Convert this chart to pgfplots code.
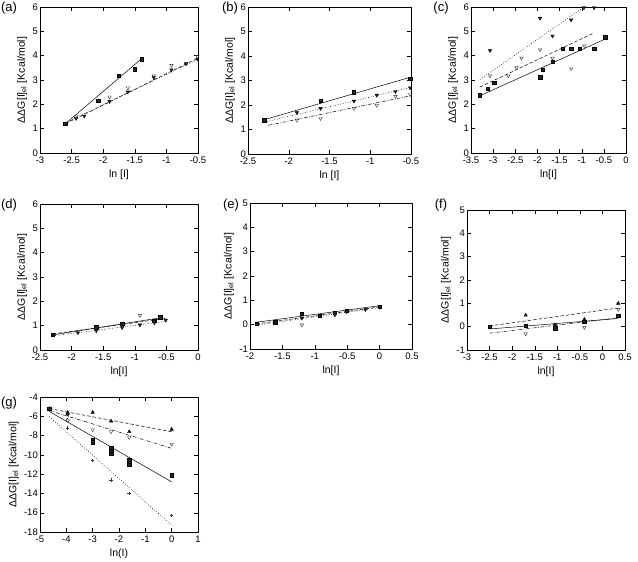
\documentclass[border=0pt]{standalone}
\usepackage{fontspec}
\setmainfont{Liberation Sans}
\usepackage{pgfplots}
\pgfplotsset{compat=1.18}
\pgfplotsset{
  panel/.style={scale only axis, anchor=south west, tick align=inside,
    /pgf/number format/assume math mode=true,
    ticklabel style={font=\fontsize{9.5}{10}\selectfont},
    yticklabel style={inner xsep=2pt},
    label style={font=\fontsize{10.5}{12}\selectfont},
    axis line style={line width=0.5pt}, tick style={line width=0.4pt, black},
    xtick pos=both, ytick pos=both,
    ylabel={ΔΔG[I]\textsubscript{el} [Kcal/mol]}},
  sq/.style={only marks, mark=square*, mark size=1.7pt, mark options={fill=black!85, draw=black}},
  dtf/.style={only marks, mark=triangle*, mark size=2pt, mark options={rotate=180, fill=black!85, draw=black}},
  dto/.style={only marks, mark=triangle, mark size=2pt, mark options={rotate=180, draw=black!80, fill=white}},
  utf/.style={only marks, mark=triangle*, mark size=2pt, mark options={fill=black!85, draw=black}},
  cf/.style={only marks, mark=*, mark size=1.7pt, mark options={fill=black!85, draw=black}},
  co/.style={only marks, mark=o, mark size=1.8pt, mark options={draw=black}},
  pl/.style={only marks, mark=+, mark size=1.8pt, mark options={draw=black!80}},
  ln/.style={no marks, black, line width=0.5pt},
  lsolid/.style={ln, solid},
  ldash/.style={ln, dash pattern=on 3.5pt off 2pt},
  ldot/.style={ln, dash pattern=on 0.8pt off 1.8pt},
  ldd/.style={ln, dash pattern=on 3.5pt off 1.5pt on 0.8pt off 1.5pt},
}
\begin{document}
\begin{tikzpicture}
\path[use as bounding box] (0pt,0pt) rectangle (638pt,562pt);
\tikzset{plab/.style={font=\fontsize{13}{14}\selectfont}}
\node[plab] at (9pt,554pt) {(a)};
\node[plab] at (230pt,554pt) {(b)};
\node[plab] at (441pt,554pt) {(c)};
\node[plab] at (9pt,357pt) {(d)};
\node[plab] at (231pt,357pt) {(e)};
\node[plab] at (441pt,357pt) {(f)};
\node[plab] at (9pt,159pt) {(g)};

% (a)
\begin{axis}[panel, at={(40pt,409pt)}, width=158pt, height=146pt,
  xmin=-3, xmax=-0.5, ymin=0, ymax=6,
  xtick={-3,-2.5,-2,-1.5,-1,-0.5}, ytick={0,1,2,3,4,5,6},
  xlabel={ln [I]}]
\addplot[lsolid] coordinates {(-2.6,1.2) (-1.39,3.88)};
\addplot[ldash] coordinates {(-2.6,1.2) (-0.5,3.9)};
\addplot[ldot] coordinates {(-2.6,1.24) (-0.5,3.85)};
\addplot[sq] coordinates {(-2.6,1.21) (-2.08,2.16) (-1.75,3.18) (-1.5,3.44) (-1.39,3.86)};
\addplot[dtf] coordinates {(-2.43,1.42) (-2.3,1.52) (-1.9,2.12) (-1.61,2.51) (-1.2,3.1) (-0.92,3.42) (-0.69,3.67) (-0.51,3.86)};
\addplot[dto] coordinates {(-2.43,1.5) (-1.9,2.3) (-1.61,2.68) (-1.2,3.17) (-0.92,3.6) (-0.51,3.97)};
\end{axis}

% (b)
\begin{axis}[panel, at={(248pt,408pt)}, width=163pt, height=147pt,
  xmin=-2.5, xmax=-0.5, ymin=0, ymax=6,
  xtick={-2.5,-2,-1.5,-1,-0.5}, ytick={0,1,2,3,4,5,6},
  xlabel={ln [I]}]
\addplot[lsolid] coordinates {(-2.3,1.4) (-0.5,3.14)};
\addplot[ldot] coordinates {(-2.3,1.3) (-0.5,2.72)};
\addplot[ldd] coordinates {(-2.25,1.17) (-0.5,2.38)};
\addplot[sq] coordinates {(-2.3,1.38) (-1.61,2.18) (-1.2,2.52) (-0.51,3.07)};
\addplot[dtf] coordinates {(-1.9,1.69) (-1.61,1.86) (-1.2,2.16) (-0.92,2.4) (-0.69,2.55) (-0.51,2.7)};
\addplot[dto] coordinates {(-1.9,1.38) (-1.61,1.45) (-1.2,1.86) (-0.92,1.99) (-0.69,2.35) (-0.51,2.43)};
\end{axis}

% (c)
\begin{axis}[panel, at={(471pt,409pt)}, width=155pt, height=146pt,
  xmin=-3.5, xmax=0, ymin=0, ymax=6,
  xtick={-3.5,-3,-2.5,-2,-1.5,-1,-0.5,0}, ytick={0,1,2,3,4,5,6},
  xlabel={ln[I]}]
\addplot[lsolid] coordinates {(-3.3,2.35) (-0.45,4.7)};
\addplot[ldash] coordinates {(-3.3,2.71) (-0.74,4.92)};
\addplot[ldot] coordinates {(-3.3,3.02) (-0.95,6.0)};
\addplot[sq] coordinates {(-3.3,2.38) (-3.12,2.63) (-2.98,2.9) (-1.94,3.12) (-1.88,3.42) (-1.66,3.75) (-1.43,4.28) (-1.24,4.28) (-1.04,4.28) (-0.72,4.28) (-0.47,4.76)};
\addplot[dtf] coordinates {(-3.07,4.21) (-1.94,5.54) (-1.66,4.81) (-1.24,5.47) (-0.95,5.97) (-0.72,5.97)};
\addplot[dto] coordinates {(-3.07,3.17) (-2.66,3.17) (-2.47,3.51) (-2.36,3.9) (-1.94,4.24) (-1.66,3.9) (-1.24,3.46) (-0.94,4.4)};
\end{axis}

% (d)
\begin{axis}[panel, at={(40pt,212pt)}, width=158pt, height=146pt,
  xmin=-2.5, xmax=0, ymin=0, ymax=6,
  xtick={-2.5,-2,-1.5,-1,-0.5,0}, ytick={0,1,2,3,4,5,6},
  xlabel={ln[I]}]
\addplot[lsolid] coordinates {(-2.3,0.62) (-0.6,1.32)};
\addplot[ldash] coordinates {(-2.3,0.66) (-0.5,1.3)};
\addplot[ldot] coordinates {(-2.3,0.58) (-0.5,1.18)};
\addplot[sq] coordinates {(-2.3,0.64) (-1.61,0.93) (-1.2,1.07) (-0.69,1.2) (-0.6,1.34)};
\addplot[dtf] coordinates {(-1.9,0.71) (-1.61,0.82) (-1.2,0.92) (-0.92,1.03) (-0.69,1.16) (-0.51,1.23)};
\addplot[dto] coordinates {(-1.61,0.78) (-1.2,1.0) (-0.92,1.42) (-0.69,1.1)};
\end{axis}

% (e)
\begin{axis}[panel, at={(250pt,213pt)}, width=162pt, height=146pt,
  xmin=-2, xmax=0.5, ymin=-1, ymax=5,
  xtick={-2,-1.5,-1,-0.5,0,0.5}, ytick={-1,0,1,2,3,4,5},
  xlabel={ln[I]}]
\addplot[lsolid] coordinates {(-1.9,0.1) (0,0.78)};
\addplot[ldash] coordinates {(-1.9,0.03) (0,0.73)};
\addplot[ldot] coordinates {(-1.9,-0.02) (0,0.7)};
\addplot[sq] coordinates {(-1.9,0.05) (-1.61,0.1) (-1.2,0.45) (-0.92,0.36) (-0.69,0.5) (-0.51,0.58) (0,0.73)};
\addplot[dtf] coordinates {(-1.61,0.07) (-1.2,0.27) (-0.69,0.4) (-0.51,0.53) (-0.22,0.62) (0,0.72)};
\addplot[dto] coordinates {(-1.2,-0.01) (-0.69,0.45)};
\end{axis}

% (f)
\begin{axis}[panel, at={(467pt,212pt)}, width=158pt, height=140pt,
  xmin=-3, xmax=0.5, ymin=-1, ymax=5,
  xtick={-3,-2.5,-2,-1.5,-1,-0.5,0,0.5}, ytick={-1,0,1,2,3,4,5},
  xlabel={ln[I]}, ylabel={ΔΔG[I]\textsubscript{el} [Kcal/mol]}]
\addplot[ldash] coordinates {(-2.5,0.03) (0.35,0.8)};
\addplot[lsolid] coordinates {(-2.5,-0.1) (0.35,0.35)};
\addplot[ldd] coordinates {(-2.5,-0.28) (0.35,0.38)};
\addplot[sq] coordinates {(-2.5,0.0) (-1.7,0.03) (-1.05,-0.06) (-0.4,0.2) (0.35,0.47)};
\addplot[utf] coordinates {(-1.7,0.49) (-0.4,0.31) (0.35,1.0)};
\addplot[dto] coordinates {(-1.7,-0.31) (-1.05,0.05) (-0.4,-0.03) (0.35,0.74)};
\addplot[cf] coordinates {(-1.05,0.09) (-0.4,0.23)};
\end{axis}

% (g)
\begin{axis}[panel, at={(40pt,30pt)}, width=158pt, height=135pt,
  xmin=-5, xmax=1, ymin=-18, ymax=-4,
  xtick={-5,-4,-3,-2,-1,0,1}, ytick={-18,-16,-14,-12,-10,-8,-6,-4},
  xlabel={ln(I)}]
\addplot[ldash] coordinates {(-4.65,-5.2) (0,-7.6)};
\addplot[ldd] coordinates {(-4.65,-5.4) (0,-9.33)};
\addplot[lsolid] coordinates {(-4.65,-5.5) (0,-12.8)};
\addplot[ldot] coordinates {(-4.65,-6.04) (0,-17.3)};
\addplot[utf] coordinates {(-4.65,-5.2) (-3.95,-5.6) (-3.0,-5.6) (-2.3,-6.5) (-1.61,-7.6) (0,-7.35)};
\addplot[dto] coordinates {(-3.0,-7.4) (-2.3,-7.6) (-1.61,-8.2) (0,-8.9)};
\addplot[co] coordinates {(-3.95,-6.4)};
\addplot[cf] coordinates {(-3.95,-5.8)};
\addplot[sq] coordinates {(-4.65,-5.2) (-3.0,-8.4) (-3.0,-8.7) (-2.3,-9.3) (-2.3,-9.6) (-2.3,-9.9) (-1.61,-10.5) (-1.61,-10.8) (-1.61,-11.0) (0,-12.1)};
\addplot[pl] coordinates {(-3.95,-7.2) (-3.0,-10.6) (-2.3,-12.6) (-1.61,-14.0) (0,-16.3)};
\end{axis}
\end{tikzpicture}
\end{document}
